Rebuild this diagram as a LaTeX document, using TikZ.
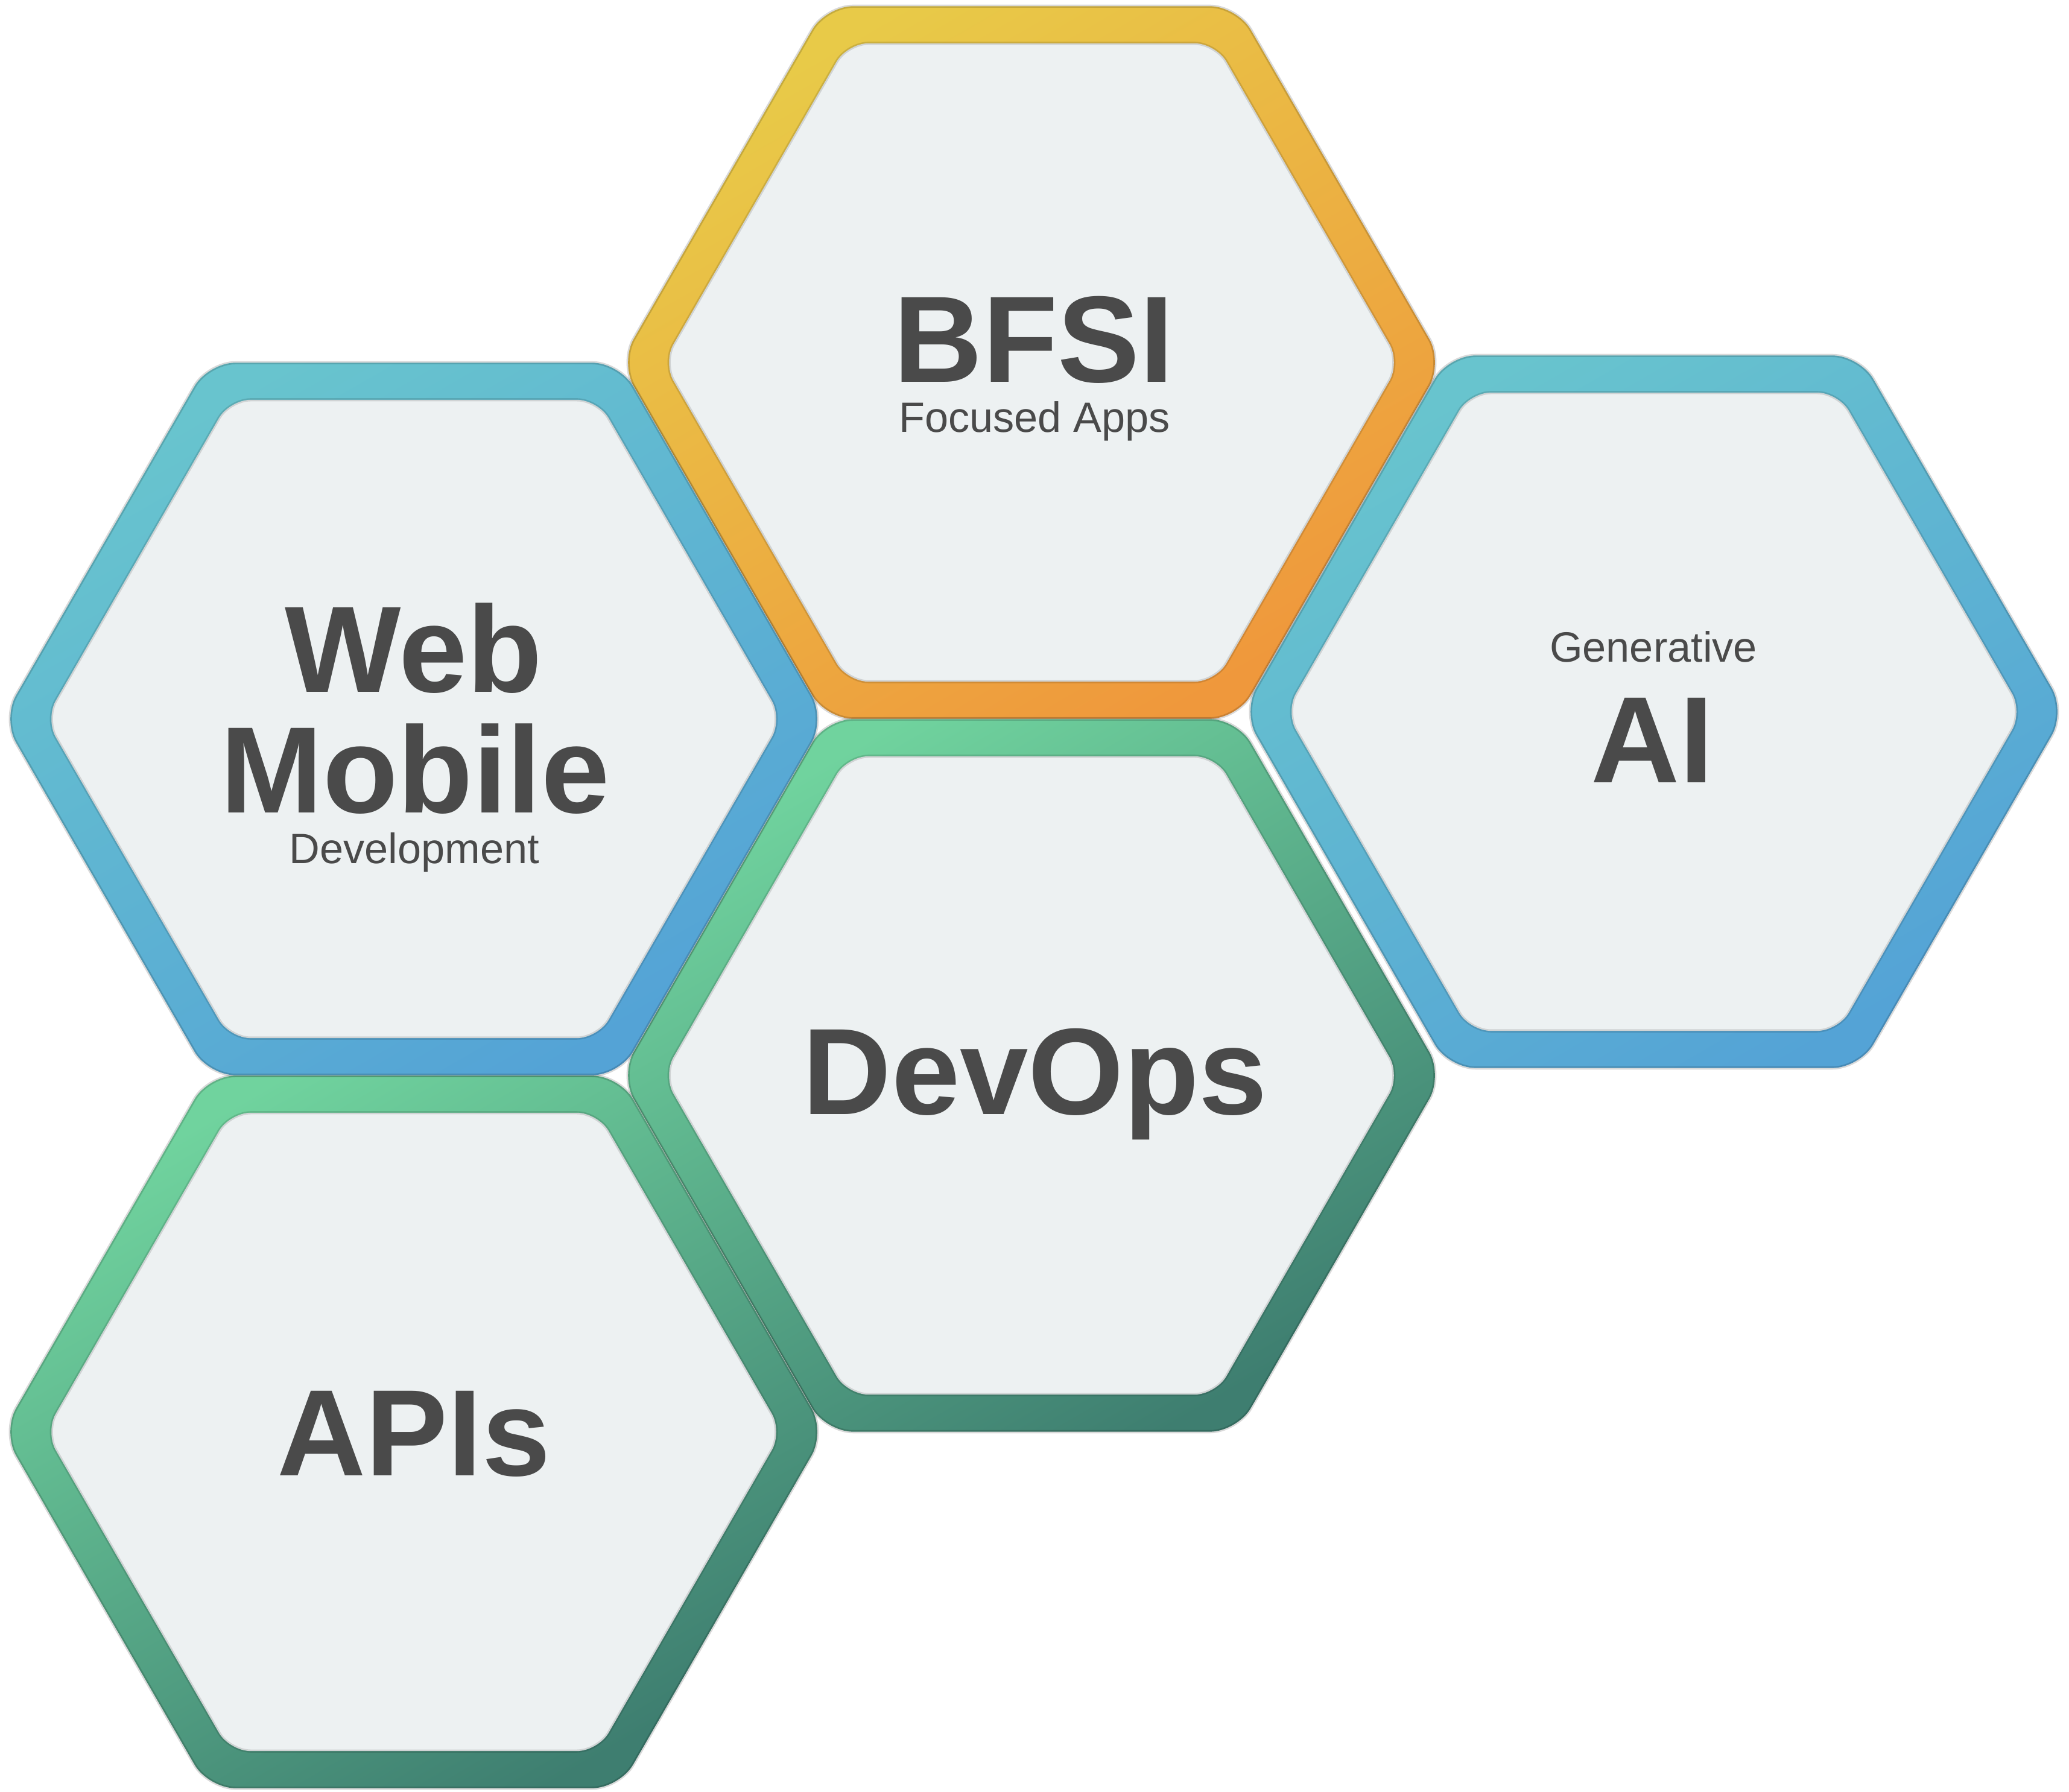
\documentclass[tikz,border=0pt]{standalone}
\usepackage{fontspec}
\setmainfont{Liberation Sans}
\usetikzlibrary{shapes.geometric}
\definecolor{inkgrey}{HTML}{4A4A4A}
\definecolor{hexfill}{HTML}{EDF1F2}
\definecolor{bluelight}{HTML}{68C4CE}
\definecolor{bluedark}{HTML}{54A3D6}
\definecolor{goldlight}{HTML}{E8CA48}
\definecolor{golddark}{HTML}{EF983C}
\definecolor{greenlight}{HTML}{70D39E}
\definecolor{greendark}{HTML}{3E7E70}

\begin{document}
\begin{tikzpicture}
    \tikzstyle{hexring} = [regular polygon, regular polygon sides=6, minimum size=13.64cm, inner sep=0pt, rounded corners=0.45cm, draw=black, draw opacity=0.15, line width=1.5pt]
    \tikzstyle{bluering} = [hexring, top color=bluelight, bottom color=bluedark, shading angle=30]
    \tikzstyle{goldring} = [hexring, top color=goldlight, bottom color=golddark, shading angle=30]
    \tikzstyle{greenring} = [hexring, top color=greenlight, bottom color=greendark, shading angle=30]
    \tikzstyle{hexcore} = [regular polygon, regular polygon sides=6, minimum size=12.22cm, inner sep=0pt, rounded corners=0.35cm, fill=hexfill, draw=black, draw opacity=0.12, line width=1.5pt]
    \tikzstyle{bigtext} = [anchor=base, inner sep=0pt, text=inkgrey, font=\fontsize{58}{58}\selectfont\bfseries]
    \tikzstyle{smalltext} = [anchor=base, inner sep=0pt, text=inkgrey, font=\fontsize{20}{20}\selectfont]

    \useasboundingbox (0,0) rectangle (34.30,29.70);

    % banking hexagon
    \node[goldring] (bfsiring) at (17.10,23.69) {};
    \node[hexcore] (bfsicore) at (bfsiring.center) {};
    \node[bigtext] (bfsi) at (17.14,23.36) {BFSI};
    \node[smalltext] (bfsisub) at (17.15,22.53) {Focused Apps};

    % devops hexagon
    \node[greenring] (devring) at (17.10,11.87) {};
    \node[hexcore] (devcore) at (devring.center) {};
    \node[bigtext] (devops) at (17.16,11.22) {DevOps};

    % api hexagon
    \node[greenring] (apiring) at (6.86,5.96) {};
    \node[hexcore] (apicore) at (apiring.center) {};
    \node[bigtext] (apis) at (6.86,5.24) {APIs};

    % web and mobile hexagon
    \node[bluering] (webring) at (6.86,17.78) {};
    \node[hexcore] (webcore) at (webring.center) {};
    \node[bigtext] (web) at (6.86,18.22) {Web};
    \node[bigtext] (mobile) at (6.88,16.22) {Mobile};
    \node[smalltext] (devel) at (6.87,15.38) {Development};

    % ai hexagon
    \node[bluering] (airing) at (27.42,17.90) {};
    \node[hexcore] (aicore) at (airing.center) {};
    \node[smalltext] (gen) at (27.41,18.72) {Generative};
    \node[bigtext] (ai) at (27.39,16.72) {AI};
\end{tikzpicture}
\end{document}
